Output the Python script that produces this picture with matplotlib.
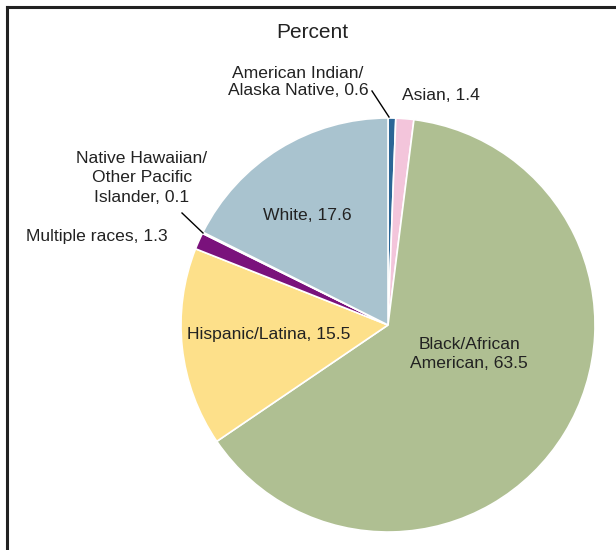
import matplotlib.pyplot as plt
from matplotlib.lines import Line2D

plt.rcParams['font.family'] = ['Liberation Sans', 'DejaVu Sans']

groups = ['American Indian/\nAlaska Native', 'Asian', 'Black/African\nAmerican',
          'Hispanic/Latina', 'Multiple races', 'Native Hawaiian/\nOther Pacific\nIslander',
          'White']
percent = [0.6, 1.4, 63.5, 15.5, 1.3, 0.1, 17.6]
colors = ['#2c6696', '#f3c5db', '#afbf92', '#fde08a', '#7a127c', '#e8586a', '#a9c3cf']

fig = plt.figure(figsize=(6.16, 5.5), dpi=100)
ax = fig.add_axes([0, 0, 1, 1])

# pie centre / radius in pixel units (y measured from bottom)
cx, cy, r = 388, 225, 207
ax.pie(percent, colors=colors, startangle=90, counterclock=False,
       center=(cx, cy), radius=r, frame=True,
       wedgeprops=dict(edgecolor='white', linewidth=1.2))
ax.set_xlim(0, 616)
ax.set_ylim(0, 550)
ax.axis('off')

# frame round the chart
fig.add_artist(Line2D([7 / 616, 7 / 616], [0, 1 - 7 / 550], color='#222222', lw=2.2,
                      transform=fig.transFigure))
fig.add_artist(Line2D([7 / 616, 1], [1 - 7 / 550, 1 - 7 / 550], color='#222222', lw=2.2,
                      transform=fig.transFigure))

def px(x, y):
    return x, 550 - y

fs = 12.6
ax.text(*px(312, 33), 'Percent', ha='center', va='center', fontsize=15, color='#222222')

# x, y, linespacing
labels = [
    (298, 82, 1.1),
    (441, 96, 1.2),
    (469, 354, 1.35),
    (269, 334, 1.2),
    (97, 237, 1.2),
    (142, 178, 1.4),
    (307, 216, 1.2),
]
for (x, y, ls), g, p in zip(labels, groups, percent):
    ax.text(*px(x, y), g + ', ' + str(p), ha='center', va='center', fontsize=fs,
            color='#222222', multialignment='center', linespacing=ls)

# leader lines
ax.plot(*zip(px(372, 91), px(389, 117)), color='black', lw=1)
ax.plot(*zip(px(182, 213), px(203, 233)), color='black', lw=1)

fig.savefig('out.png', dpi=100)
